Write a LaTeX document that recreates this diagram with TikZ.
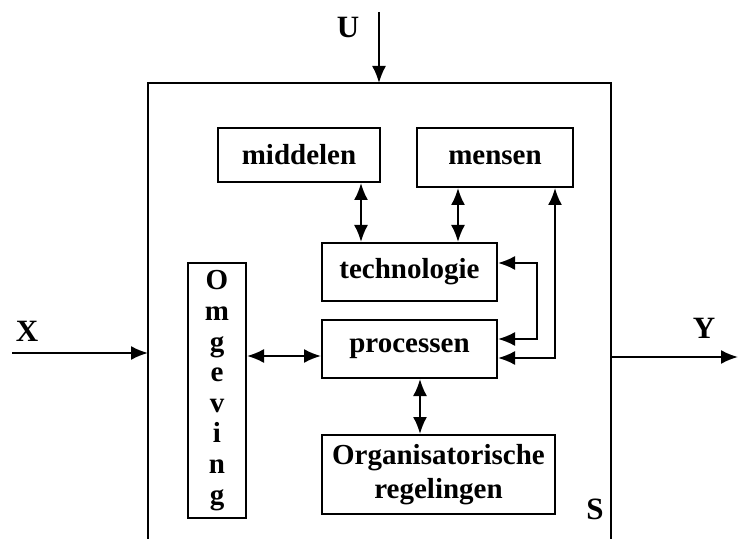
\documentclass[tikz,border=0pt]{standalone}
\usepackage{fontspec}
\setmainfont{Liberation Serif}
\usetikzlibrary{arrows.meta}
\begin{document}
\begin{tikzpicture}[x=0.5pt,y=-0.5pt,
  every node/.style={font=\fontsize{14.5}{16}\selectfont\bfseries},
  blk/.style={draw,line width=1pt,inner sep=0pt,align=center},
  lnk/.style={line width=1pt},
  both/.style={lnk,{Latex[length=8.5pt,width=7pt]}-{Latex[length=8.5pt,width=7pt]}},
  one/.style={lnk,-{Latex[length=8.5pt,width=7pt]}},
  lbl/.style={font=\fontsize{15.5}{16}\selectfont\bfseries}]
\useasboundingbox (0,0) rectangle (738,539);
% system boundary
\coordinate (sbl) at (148,539);
\coordinate (stl) at (148,83);
\coordinate (str) at (611,83);
\coordinate (sbr) at (611,539);
\draw[lnk] (sbl) -- (stl) -- (str) -- (sbr);
% blocks
\node[blk,minimum width=81pt,minimum height=27pt] (mid) at (299,155) {middelen};
\node[blk,minimum width=78pt,minimum height=29.5pt] (men) at (495,157.5) {mensen};
\node[blk,minimum width=87.5pt,minimum height=29pt] (tec) at (409.5,272) {technologie};
\node[blk,minimum width=87.5pt,minimum height=29pt] (pro) at (409.5,349) {processen};
\node[blk,minimum width=29pt,minimum height=127.5pt,font=\fontsize{14.5}{15.3}\selectfont\bfseries] (omg) at (217,390.5) {O\\m\\g\\e\\v\\i\\n\\g};
\node[blk,minimum width=116.5pt,minimum height=39.5pt,font=\fontsize{14.5}{17}\selectfont\bfseries] (org) at (438.5,474.5) {Organisatorische\\regelingen};
% connectors
\draw[both] ([xshift=-24.25pt]tec.north) -- ([xshift=-24.25pt]tec.north |- mid.south);
\draw[both] ([xshift=24.25pt]tec.north) -- ([xshift=24.25pt]tec.north |- men.south);
\draw[both] ([yshift=4.5pt]tec.east) -- ++(19.5pt,0) |- ([yshift=5pt]pro.east);
\draw[both] ([yshift=-4.5pt]pro.east) -| ([xshift=30pt]men.south);
\draw[both] ([yshift=-3.5pt]pro.west -| omg.east) -- ([yshift=-3.5pt]pro.west);
\draw[both] ([xshift=5.25pt]pro.south) -- ([xshift=5.25pt]pro.south |- org.north);
% inputs / outputs
\coordinate (u0) at (379,12);
\coordinate (u1) at (379,83);
\draw[one] (u0) -- (u1);
\node[lbl] (ul) at (348,27) {U};
\coordinate (x0) at (12,353);
\coordinate (x1) at (148,353);
\draw[one] (x0) -- (x1);
\node[lbl] (xl) at (27,331) {X};
\coordinate (y0) at (611,357);
\coordinate (y1) at (738,357);
\draw[one] (y0) -- (y1);
\node[lbl] (yl) at (704,328) {Y};
\node[lbl] (sl) at (595,509) {S};
\end{tikzpicture}
\end{document}
